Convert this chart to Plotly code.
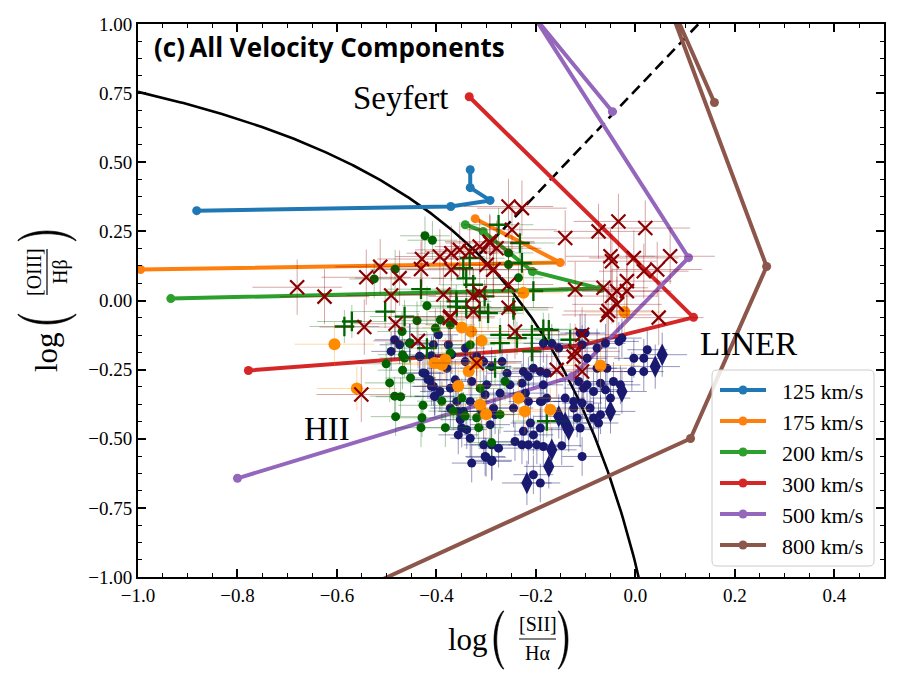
import numpy as np
import plotly.graph_objects as go

# ---------------- model shock tracks (log [SII]/Ha, log [OIII]/Hb) ----------------
v125_x = [-0.882, -0.371, -0.292, -0.332, -0.332]
v125_y = [0.325, 0.340, 0.362, 0.408, 0.473]
v175_x = [-0.995, -0.151, -0.322]
v175_y = [0.112, 0.137, 0.296]
v200_x = [-0.934, -0.070, -0.207, -0.306, -0.342]
v200_y = [0.007, 0.043, 0.105, 0.250, 0.274]
v300_x = [-0.334, 0.117, -0.111, -0.778]
v300_y = [0.737, -0.061, -0.163, -0.253]
v500_x = [-0.046, -0.205, 0.107, -0.127, -0.800]
v500_y = [0.683, 1.030, 0.155, -0.275, -0.643]
v800_x = [0.159, 0.040, 0.264, 0.111, -0.650]
v800_y = [0.716, 1.200, 0.123, -0.499, -1.125]
model_labels = ["125 km/s", "175 km/s", "200 km/s", "300 km/s", "500 km/s", "800 km/s"]

# ---------------- demarcation lines ----------------
kew01 = (0.72, 0.32, 1.30)      # y = a/(x-b)+c
kew06 = (1.89, 0.76)            # y = m x + q

# ---------------- observed components ----------------
navy_pts = [
    (-0.453, -0.155), (-0.433, -0.203), (-0.423, -0.263), (-0.413, -0.287), (-0.406, -0.311),
    (-0.403, -0.347), (-0.393, -0.329), (-0.396, -0.124), (-0.406, -0.160), (-0.376, -0.160),
    (-0.369, -0.196), (-0.379, -0.245), (-0.362, -0.287), (-0.372, -0.317), (-0.359, -0.365),
    (-0.372, -0.389), (-0.356, -0.401), (-0.352, -0.431), (-0.349, -0.461), (-0.356, -0.486),
    (-0.339, -0.467), (-0.332, -0.498), (-0.329, -0.588), (-0.346, -0.401), (-0.332, -0.365),
    (-0.329, -0.293), (-0.342, -0.221), (-0.342, -0.172), (-0.319, -0.203), (-0.305, -0.221),
    (-0.289, -0.239), (-0.299, -0.305), (-0.302, -0.341), (-0.309, -0.401), (-0.282, -0.413),
    (-0.292, -0.449), (-0.305, -0.522), (-0.289, -0.522), (-0.275, -0.534), (-0.302, -0.564),
    (-0.289, -0.582), (-0.285, -0.389), (-0.272, -0.335), (-0.268, -0.221), (-0.252, -0.305),
    (-0.258, -0.263), (-0.245, -0.389), (-0.225, -0.257), (-0.228, -0.299), (-0.221, -0.335),
    (-0.215, -0.365), (-0.211, -0.443), (-0.225, -0.473), (-0.228, -0.522), (-0.215, -0.522),
    (-0.205, -0.486), (-0.198, -0.522), (-0.191, -0.461), (-0.191, -0.365), (-0.178, -0.353),
    (-0.178, -0.263), (-0.185, -0.155), (-0.168, -0.155), (-0.154, -0.172), (-0.141, -0.353),
    (-0.124, -0.365), (-0.124, -0.389), (-0.117, -0.425), (-0.111, -0.461), (-0.107, -0.160),
    (-0.101, -0.118), (-0.111, -0.118), (-0.097, -0.209), (-0.077, -0.172), (-0.060, -0.155),
    (-0.033, -0.148), (-0.027, -0.136), (-0.070, -0.299), (-0.060, -0.323), (-0.050, -0.353),
    (-0.084, -0.329), (-0.104, -0.317), (-0.091, -0.389), (-0.084, -0.425), (-0.074, -0.443),
    (-0.070, -0.413), (-0.044, -0.293), (-0.030, -0.305), (-0.003, -0.209), (0.017, -0.209),
    (0.024, -0.178), (-0.007, -0.257), (0.017, -0.257), (-0.057, -0.245), (-0.077, -0.245),
    (-0.205, -0.245), (-0.191, -0.257), (-0.242, -0.510), (-0.185, -0.528), (-0.148, -0.525),
    (-0.107, -0.564), (-0.205, -0.630), (-0.191, -0.660), (-0.114, -0.293), (-0.188, -0.365),
    (-0.215, -0.275), (-0.185, -0.305), (-0.097, -0.305), (-0.107, -0.371), (-0.484, -0.142),
    (-0.491, -0.184), (-0.474, -0.160), (-0.454, -0.154), (-0.427, -0.262), (-0.417, -0.286),
    (-0.410, -0.310), (-0.404, -0.346), (-0.434, -0.202), (-0.410, -0.200), (-0.300, -0.567),
    (-0.288, -0.578),
]
navy_diamond_pts = [
    (0.054, -0.196), (0.040, -0.239), (-0.027, -0.329), (-0.050, -0.401), (-0.154, -0.419),
    (-0.141, -0.443), (-0.134, -0.467), (-0.168, -0.540), (-0.174, -0.600), (-0.218, -0.660),
]
green_pts = [
    (-0.423, 0.234), (-0.408, 0.218), (-0.483, 0.113), (-0.525, 0.078), (-0.419, -0.019),
    (-0.439, -0.073), (-0.469, -0.112), (-0.453, -0.154), (-0.402, -0.100), (-0.468, -0.196),
    (-0.464, -0.208), (-0.501, -0.229), (-0.468, -0.252), (-0.452, -0.280), (-0.494, -0.298),
    (-0.484, -0.346), (-0.472, -0.348), (-0.427, -0.379), (-0.482, -0.420), (-0.429, -0.424),
    (-0.431, -0.460), (-0.382, -0.460), (-0.389, -0.364), (-0.366, -0.400), (-0.349, -0.352),
    (-0.342, -0.418), (-0.319, -0.424), (-0.315, -0.460), (-0.312, -0.318), (-0.272, -0.412),
    (-0.262, -0.292), (-0.372, -0.190), (-0.372, -0.088), (-0.332, -0.160), (-0.392, -0.070),
    (-0.289, -0.514), (-0.255, 0.172), (-0.255, 0.130), (-0.235, 0.082),
]
green_plus_pts = [
    (-0.431, 0.041), (-0.503, -0.040), (-0.464, -0.058), (-0.585, -0.094), (-0.570, -0.076),
    (-0.419, -0.172), (-0.346, 0.117), (-0.340, 0.080), (-0.326, 0.057), (-0.360, -0.003),
    (-0.340, -0.027), (-0.313, -0.040), (-0.296, -0.046), (-0.333, 0.153), (-0.303, 0.015),
    (-0.359, -0.022), (-0.272, -0.124), (-0.272, -0.154), (-0.245, -0.034), (-0.238, -0.136),
    (-0.208, -0.124), (-0.174, -0.106), (-0.131, -0.142), (-0.208, -0.184), (-0.282, -0.244),
    (-0.178, -0.436), (-0.275, 0.274), (-0.232, 0.208), (-0.228, 0.136), (-0.205, 0.034),
    (-0.185, -0.104), (-0.245, -0.026),
]
orange_pts = [
    (-0.605, -0.158), (-0.560, -0.318), (-0.404, -0.226), (-0.349, -0.098), (-0.330, -0.112),
    (-0.309, -0.146), (-0.389, -0.232), (-0.382, -0.214), (-0.335, -0.256), (-0.319, -0.226),
    (-0.356, -0.309), (-0.312, -0.377), (-0.300, -0.411), (-0.235, -0.353), (-0.171, -0.395),
    (-0.070, -0.235), (-0.022, -0.042), (-0.225, 0.028), (-0.222, -0.401),
]
red_x_pts = [
    (-0.680, 0.048), (-0.625, 0.014), (-0.541, 0.084), (-0.513, 0.122), (-0.474, 0.081),
    (-0.491, 0.018), (-0.429, 0.150), (-0.431, 0.114), (-0.545, -0.096), (-0.482, -0.084),
    (-0.437, -0.146), (-0.551, -0.340), (-0.386, 0.022), (-0.393, 0.159), (-0.370, 0.171),
    (-0.353, 0.183), (-0.333, 0.177), (-0.313, 0.195), (-0.293, 0.213), (-0.279, 0.189),
    (-0.373, -0.063), (-0.313, 0.027), (-0.326, 0.015), (-0.370, 0.111), (-0.299, 0.129),
    (-0.286, 0.111), (-0.326, -0.040), (-0.255, 0.340), (-0.228, 0.334), (-0.248, 0.256),
    (-0.292, 0.208), (-0.285, 0.112), (-0.255, 0.058), (-0.141, 0.226), (-0.121, 0.040),
    (-0.074, 0.250), (-0.034, 0.286), (0.020, 0.262), (-0.050, 0.160), (-0.047, 0.142),
    (-0.003, 0.154), (0.017, 0.106), (0.044, 0.112), (0.070, 0.160), (-0.064, 0.046),
    (-0.037, 0.034), (-0.017, 0.070), (-0.017, 0.034), (-0.047, 0.016), (-0.037, -0.014),
    (-0.054, -0.038), (0.047, -0.062), (-0.255, -0.026), (-0.372, -0.058), (-0.319, -0.226),
    (-0.242, -0.112), (-0.158, -0.251), (-0.124, -0.203), (-0.121, -0.184), (-0.107, -0.124),
    (-0.107, -0.257), (-0.057, -0.052),
]
# typical measurement uncertainties per group (x_err, y_err)
navy_err = (0.04, 0.07)
diamond_err = (0.05, 0.08)
green_err = (0.05, 0.07)
plus_err = (0.07, 0.06)
orange_err = (0.08, 0.08)
red_err = (0.09, 0.10)

# ---------------- figure ----------------
SERIF = "Liberation Serif"
W, H = 899, 684
L, R, T, B = 138, 884, 24, 577


def px(x):
    return (x - L) / (R - L)


def py(y):
    return (B - y) / (B - T)


fig = go.Figure()

# demarcation lines
xs = np.linspace(-1.0, 0.03, 300)
fig.add_trace(go.Scatter(x=xs, y=kew01[0] / (xs - kew01[1]) + kew01[2], mode="lines",
                         line=dict(color="black", width=2.6), showlegend=False, hoverinfo="skip"))
xd = np.array([-0.313, 0.16])
fig.add_trace(go.Scatter(x=xd, y=kew06[0] * xd + kew06[1], mode="lines",
                         line=dict(color="black", width=2.6, dash="11px,6px"),
                         showlegend=False, hoverinfo="skip"))

# model tracks
model_colors = ["#1f77b4", "#ff7f0e", "#2ca02c", "#d62728", "#9467bd", "#8c564b"]
tracks = [(v125_x, v125_y), (v175_x, v175_y), (v200_x, v200_y),
          (v300_x, v300_y), (v500_x, v500_y), (v800_x, v800_y)]
for (tx, ty), c, lab in zip(tracks, model_colors, model_labels):
    fig.add_trace(go.Scatter(x=tx, y=ty, mode="lines+markers", name=lab, showlegend=False,
                             line=dict(color=c, width=4), marker=dict(color=c, size=9)))


def add_points(pts, err, color, ecolor, symbol, size, lw=0, lcolor=None):
    x = [p[0] for p in pts]
    y = [p[1] for p in pts]
    mk = dict(color=color, size=size, symbol=symbol)
    if lw:
        mk["line"] = dict(width=lw, color=lcolor or color)
    fig.add_trace(go.Scatter(
        x=x, y=y, mode="markers", marker=mk, showlegend=False,
        error_x=dict(type="constant", value=err[0], color=ecolor, thickness=1, width=0),
        error_y=dict(type="constant", value=err[1], color=ecolor, thickness=1, width=0)))


add_points(navy_pts, navy_err, "#191970", "rgba(25,25,112,0.45)", "circle", 9)
add_points(navy_diamond_pts, diamond_err, "#191970", "rgba(25,25,112,0.45)", "diamond-tall", 16)
add_points(green_pts, green_err, "#006400", "rgba(0,100,0,0.35)", "circle", 9)
add_points(green_plus_pts, plus_err, "#006400", "rgba(0,110,0,0.35)", "cross-thin", 14, 2.3)
add_points(orange_pts, orange_err, "#ff8c00", "rgba(255,140,0,0.35)", "circle", 12)
add_points(red_x_pts, red_err, "#8b0000", "rgba(139,0,0,0.35)", "x-thin", 14, 2.2)


def ann(xp, yp, text, size, family=SERIF, angle=0, xanchor="center", yanchor="middle"):
    return dict(x=px(xp), y=py(yp), xref="paper", yref="paper", text=text, showarrow=False,
                xanchor=xanchor, yanchor=yanchor, textangle=angle,
                font=dict(family=family, size=size, color="black"))


def P(x, y):
    return f"{px(x):.5f},{py(y):.5f}"


def paren(p0, p1, d, outer=9.0, inner=6.5, end=1.0):
    """thin crescent-shaped bracket between pixel points p0,p1 bulging along unit vector d"""
    (x0, y0), (x1, y1), (dx, dy) = p0, p1, d
    ko, ki = outer / 0.75, inner / 0.75
    ax, ay = x0 + (x1 - x0) * 0.22, y0 + (y1 - y0) * 0.22
    bx, by = x0 + (x1 - x0) * 0.78, y0 + (y1 - y0) * 0.78
    path = (f"M {P(x0, y0)} C {P(ax + dx * ko, ay + dy * ko)} {P(bx + dx * ko, by + dy * ko)} {P(x1, y1)} "
            f"L {P(x1 - dx * end, y1 - dy * end)} "
            f"C {P(bx + dx * ki, by + dy * ki)} {P(ax + dx * ki, ay + dy * ki)} {P(x0 - dx * end, y0 - dy * end)} Z")
    return dict(type="path", xref="paper", yref="paper", path=path,
                fillcolor="black", line=dict(color="black", width=0.6))


def rounded_box(x0, y0, x1, y1, r):
    path = (f"M {P(x0 + r, y0)} L {P(x1 - r, y0)} Q {P(x1, y0)} {P(x1, y0 + r)} "
            f"L {P(x1, y1 - r)} Q {P(x1, y1)} {P(x1 - r, y1)} "
            f"L {P(x0 + r, y1)} Q {P(x0, y1)} {P(x0, y1 - r)} "
            f"L {P(x0, y0 + r)} Q {P(x0, y0)} {P(x0 + r, y0)} Z")
    return dict(type="path", xref="paper", yref="paper", path=path, layer="above",
                fillcolor="rgba(255,255,255,0.85)", line=dict(color="#cccccc", width=1))


annotations = [
    dict(x=-0.473, y=0.733, xref="x", yref="y", text="Seyfert", showarrow=False,
         xanchor="center", yanchor="middle", font=dict(family=SERIF, size=33, color="black")),
    dict(x=0.228, y=-0.159, xref="x", yref="y", text="LINER", showarrow=False,
         xanchor="center", yanchor="middle", font=dict(family=SERIF, size=33, color="black")),
    dict(x=-0.62, y=-0.463, xref="x", yref="y", text="HII", showarrow=False,
         xanchor="center", yanchor="middle", font=dict(family=SERIF, size=33, color="black")),
    ann(152, 47, "<b>(c)\u2009All Velocity Components</b>", 26, family="Open Sans", xanchor="left"),
    # x-axis title  log([SII]/Ha)
    ann(468, 639, "log", 31),
    ann(538, 624, "[SII]", 20),
    ann(537, 653, "H\u03b1", 20),
    # y-axis title  log([OIII]/Hb)
    ann(46, 352, "log", 31, angle=-90),
    ann(34, 272, "[OIII]", 20, angle=-90),
    ann(60, 272, "H\u03b2", 20, angle=-90),
]

shapes = [
    dict(type="line", xref="paper", yref="paper", x0=px(519), x1=px(556), y0=py(639), y1=py(639),
         line=dict(color="black", width=1.2)),
    dict(type="line", xref="paper", yref="paper", x0=px(47), x1=px(47), y0=py(249), y1=py(295),
         line=dict(color="black", width=1.2)),
    # big parentheses of the axis titles
    paren((503, 611), (503, 669), (-1, 0)),
    paren((559, 611), (559, 669), (1, 0)),
    paren((18, 315), (76, 315), (0, 1)),
    paren((18, 240), (76, 240), (0, -1)),
]

# legend (drawn as a framed key in the lower-right corner)
shapes.append(rounded_box(712, 370, 874, 566, 5))
row_y = [390, 421, 452, 483, 514, 545]
for ry, c, lab in zip(row_y, model_colors, model_labels):
    shapes.append(dict(type="line", xref="paper", yref="paper", x0=px(720), x1=px(766),
                       y0=py(ry), y1=py(ry), line=dict(color=c, width=4), layer="above"))
    shapes.append(dict(type="circle", xref="paper", yref="paper", x0=px(738.5), x1=px(747.5),
                       y0=py(ry + 4.5), y1=py(ry - 4.5), line=dict(color=c, width=0),
                       fillcolor=c, layer="above"))
    annotations.append(ann(780, ry + 1, lab, 22, xanchor="left"))

axis_common = dict(showgrid=False, zeroline=False, showline=True, linecolor="black", linewidth=2,
                   mirror="allticks", ticks="inside", ticklen=8, tickwidth=1.5, tickcolor="black",
                   tickfont=dict(family=SERIF, size=19, color="black"))
fig.update_layout(
    width=W, height=H, paper_bgcolor="white", plot_bgcolor="white",
    margin=dict(l=L, r=W - R, t=T, b=H - B, pad=0),
    xaxis=dict(range=[-1.0, 0.5], tick0=0, dtick=0.2, tickformat=".1f",
               minor=dict(ticks="inside", dtick=0.05, ticklen=4, tickwidth=1, tickcolor="black"),
               **axis_common),
    yaxis=dict(range=[-1.0, 1.0], tick0=0, dtick=0.25, tickformat=".2f",
               minor=dict(ticks="inside", dtick=0.0625, ticklen=4, tickwidth=1, tickcolor="black"),
               **axis_common),
    annotations=annotations, shapes=shapes, showlegend=False,
)

fig.write_html("out.html")
